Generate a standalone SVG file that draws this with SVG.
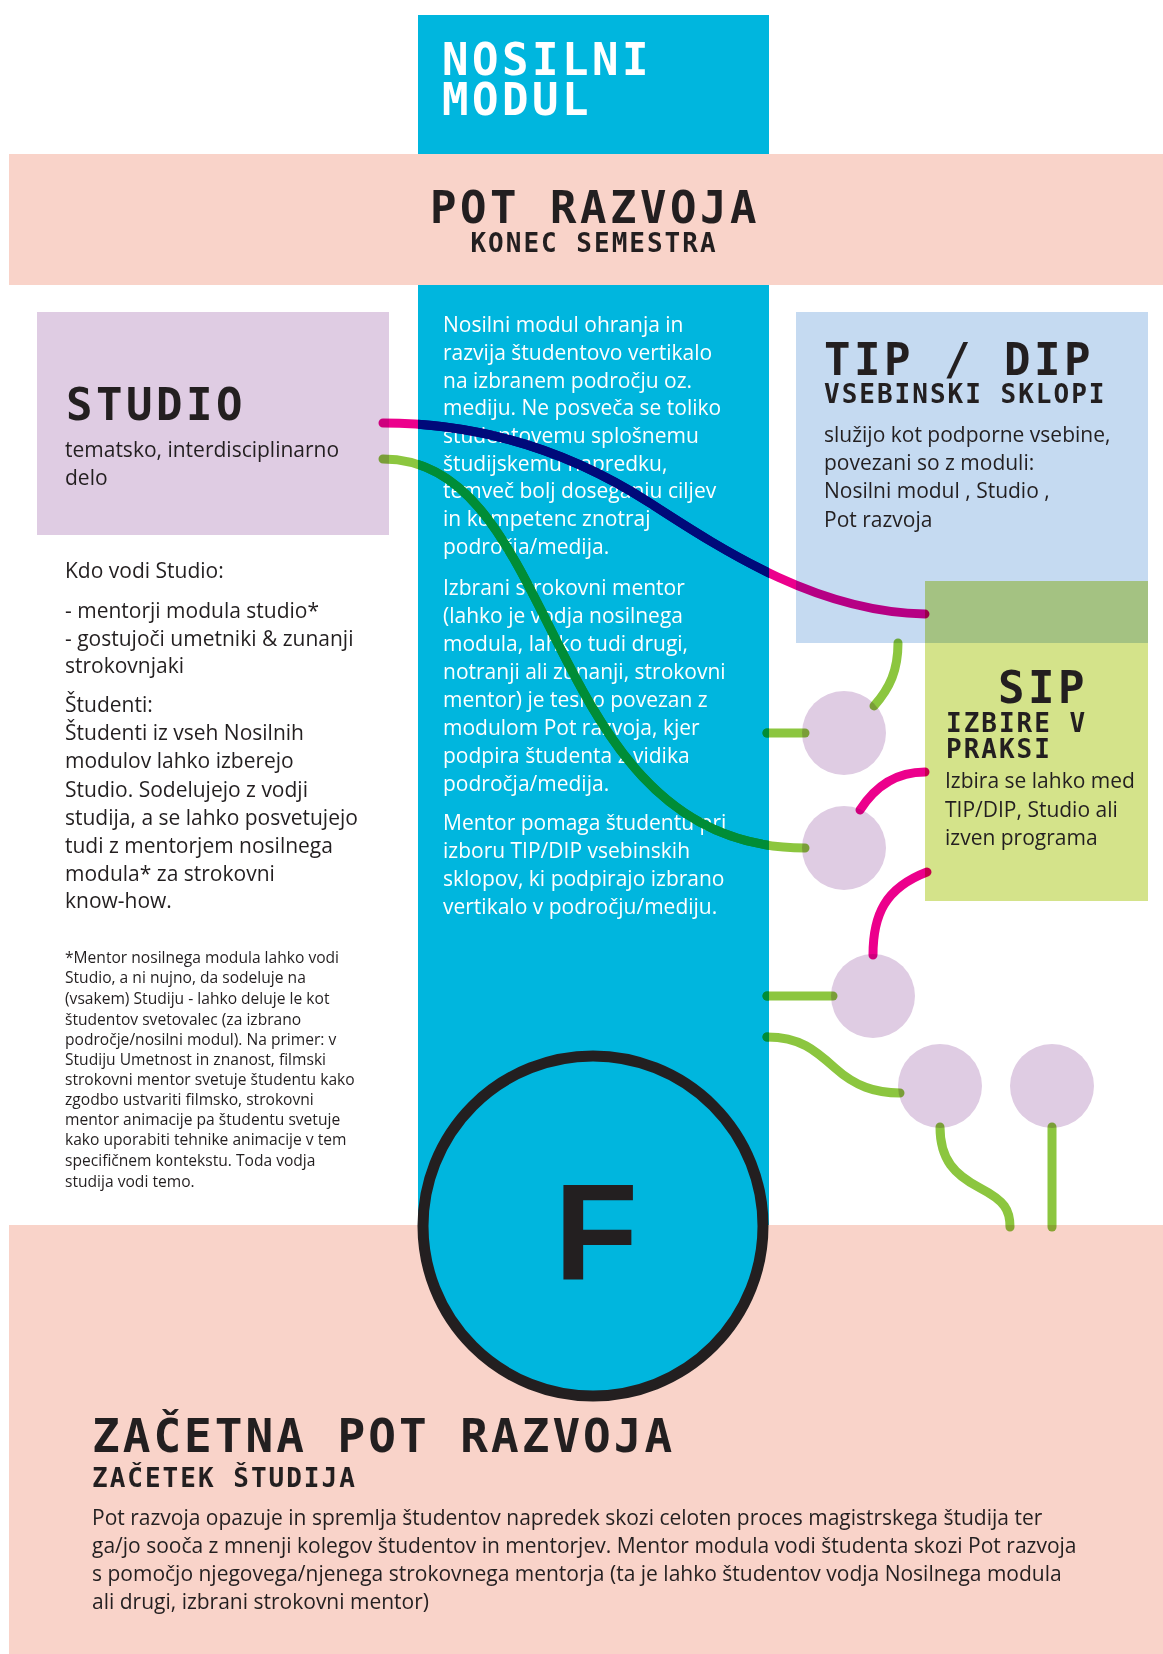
<svg xmlns="http://www.w3.org/2000/svg" width="1163" height="1654" viewBox="0 0 1163 1654">
<style>
.hd{font-family:"DejaVu Sans Mono","Liberation Mono",monospace;font-weight:bold;fill:#231f20}
.big{font-size:44px;letter-spacing:3.5px}
.sub{font-size:26px;letter-spacing:2px}
.tx{font-family:"Open Sans","Noto Sans","Liberation Sans",sans-serif;font-size:21px;fill:#231f20}
.wt{fill:#ffffff}
.fn{font-size:15.6px}
.bub{fill:#dfcce3}
.ln{fill:none;stroke-width:9;stroke-linecap:round;mix-blend-mode:multiply}
.lc{fill:none;stroke-width:9;stroke-linecap:round}
.g{stroke:#8cc63f}
.m{stroke:#ec008c}
.gd{stroke:#008d37}
.md{stroke:#000a7a}
</style>
<defs>
<clipPath id="col"><rect x="418" y="15" width="351" height="1210"/></clipPath>
<path id="p1" d="M383,423 C470,423 560,445 650,503 C730,555 820,612 925,614"/>
<path id="p2" d="M383,459 C565,459 540,848 805,848"/>
<path id="p4" d="M767,733 L805,733"/>
<path id="p7" d="M767,996 L833,996"/>
<path id="p8" d="M767,1037 C800,1037 815,1050 835,1068 C855,1086 875,1093 900,1093"/>
</defs>
<rect width="1163" height="1654" fill="#ffffff"/>
<g id="nosilni-modul">
<rect x="418" y="15" width="351" height="1210" fill="#00b6de"/>
<text class="hd big wt" x="442" y="75">NOSILNI</text>
<text class="hd big wt" x="442" y="115">MODUL</text>
<g class="tx wt">
<text x="443" y="332">Nosilni modul ohranja in</text>
<text x="443" y="360">razvija študentovo vertikalo</text>
<text x="443" y="388">na izbranem področju oz.</text>
<text x="443" y="415">mediju. Ne posveča se toliko</text>
<text x="443" y="443">študentovemu splošnemu</text>
<text x="443" y="471">študijskemu napredku,</text>
<text x="443" y="498">temveč bolj doseganju ciljev</text>
<text x="443" y="526">in kompetenc znotraj</text>
<text x="443" y="554">področja/medija.</text>
<text x="443" y="595">Izbrani strokovni mentor</text>
<text x="443" y="623">(lahko je vodja nosilnega</text>
<text x="443" y="651">modula, lahko tudi drugi,</text>
<text x="443" y="679">notranji ali zunanji, strokovni</text>
<text x="443" y="707">mentor) je tesno povezan z</text>
<text x="443" y="735">modulom Pot razvoja, kjer</text>
<text x="443" y="763">podpira študenta z vidika</text>
<text x="443" y="791">področja/medija.</text>
<text x="443" y="830">Mentor pomaga študentu pri</text>
<text x="443" y="858">izboru TIP/DIP vsebinskih</text>
<text x="443" y="886">sklopov, ki podpirajo izbrano</text>
<text x="443" y="914">vertikalo v področju/mediju.</text>
</g>
</g>
<g id="pot-razvoja">
<rect x="9" y="154" width="1154" height="131" fill="#f9d3c9"/>
<text class="hd big" x="595" y="223" text-anchor="middle">POT RAZVOJA</text>
<text class="hd sub" x="594" y="252" text-anchor="middle">KONEC SEMESTRA</text>
</g>
<g id="studio">
<rect x="37" y="312" width="352" height="223" fill="#dfcce3"/>
<text class="hd big" x="66" y="420">STUDIO</text>
<text class="tx" x="65" y="457">tematsko, interdisciplinarno</text>
<text class="tx" x="65" y="485">delo</text>
</g>
<g id="studio-info" class="tx">
<text x="65" y="578">Kdo vodi Studio:</text>
<text x="65" y="618">- mentorji modula studio*</text>
<text x="65" y="646">- gostujoči umetniki &amp; zunanji</text>
<text x="65" y="673">strokovnjaki</text>
<text x="65" y="712">Študenti:</text>
<text x="65" y="740">Študenti iz vseh Nosilnih</text>
<text x="65" y="768">modulov lahko izberejo</text>
<text x="65" y="797">Studio. Sodelujejo z vodji</text>
<text x="65" y="825">studija, a se lahko posvetujejo</text>
<text x="65" y="853">tudi z mentorjem nosilnega</text>
<text x="65" y="881">modula* za strokovni</text>
<text x="65" y="908">know-how.</text>
<g class="fn">
<text x="65" y="963">*Mentor nosilnega modula lahko vodi</text>
<text x="65" y="983">Studio, a ni nujno, da sodeluje na</text>
<text x="65" y="1004">(vsakem) Studiju - lahko deluje le kot</text>
<text x="65" y="1025">študentov svetovalec (za izbrano</text>
<text x="65" y="1045">področje/nosilni modul). Na primer: v</text>
<text x="65" y="1065">Studiju Umetnost in znanost, filmski</text>
<text x="65" y="1085">strokovni mentor svetuje študentu kako</text>
<text x="65" y="1105">zgodbo ustvariti filmsko, strokovni</text>
<text x="65" y="1125">mentor animacije pa študentu svetuje</text>
<text x="65" y="1145">kako uporabiti tehnike animacije v tem</text>
<text x="65" y="1166">specifičnem kontekstu. Toda vodja</text>
<text x="65" y="1187">studija vodi temo.</text>
</g>
</g>
<g id="tip-dip">
<rect x="796" y="312" width="352" height="331" fill="#c5daf1"/>
<text class="hd big" x="824" y="375">TIP / DIP</text>
<text class="hd sub" x="824" y="403">VSEBINSKI SKLOPI</text>
<g class="tx">
<text x="824" y="442">služijo kot podporne vsebine,</text>
<text x="824" y="470">povezani so z moduli:</text>
<text x="824" y="498">Nosilni modul , Studio ,</text>
<text x="824" y="527">Pot razvoja</text>
</g>
</g>
<g id="sip">
<rect x="925" y="581" width="223" height="320" fill="#d4e38a" style="mix-blend-mode:multiply"/>
<text class="hd big" x="998" y="703">SIP</text>
<text class="hd sub" x="946" y="732">IZBIRE V</text>
<text class="hd sub" x="946" y="758">PRAKSI</text>
<g class="tx">
<text x="945" y="788">Izbira se lahko med</text>
<text x="945" y="817">TIP/DIP, Studio ali</text>
<text x="945" y="845">izven programa</text>
</g>
</g>
<g id="bubble-1"><circle class="bub" cx="844" cy="733" r="42"/></g>
<g id="bubble-2"><circle class="bub" cx="844" cy="848" r="42"/></g>
<g id="bubble-3"><circle class="bub" cx="873" cy="996" r="42"/></g>
<g id="bubble-4"><circle class="bub" cx="940" cy="1086" r="42"/></g>
<g id="bubble-5"><circle class="bub" cx="1052" cy="1086" r="42"/></g>
<g id="zacetna-pot-razvoja">
<rect x="9" y="1225" width="1154" height="429" fill="#f9d3c9"/>
<text class="hd big" x="92" y="1452" style="font-size:46px;letter-spacing:3px">ZAČETNA POT RAZVOJA</text>
<text class="hd sub" x="92" y="1487">ZAČETEK ŠTUDIJA</text>
<g class="tx">
<text x="92" y="1525">Pot razvoja opazuje in spremlja študentov napredek skozi celoten proces magistrskega študija ter</text>
<text x="92" y="1553">ga/jo sooča z mnenji kolegov študentov in mentorjev. Mentor modula vodi študenta skozi Pot razvoja</text>
<text x="92" y="1581">s pomočjo njegovega/njenega strokovnega mentorja (ta je lahko študentov vodja Nosilnega modula</text>
<text x="92" y="1609">ali drugi, izbrani strokovni mentor)</text>
</g>
</g>
<g id="f-circle">
<circle cx="593" cy="1226" r="170" fill="#00b6de" stroke="#231f20" stroke-width="11"/>
<text x="596" y="1280" text-anchor="middle" style="font-family:'Liberation Sans',Arial,sans-serif;font-weight:bold;font-size:137px;fill:#231f20">F</text>
</g>
<g id="connectors">
<use href="#p1" class="ln m"/>
<use href="#p2" class="ln g"/>
<path class="ln g" d="M898,643 C898,670 890,688 874,706"/>
<use href="#p4" class="ln g"/>
<path class="ln m" d="M860,810 C878,782 900,772 925,772"/>
<path class="ln m" d="M873,955 C873,915 885,888 927,872"/>
<use href="#p7" class="ln g"/>
<use href="#p8" class="ln g"/>
<path class="ln g" d="M940,1127 C940,1160 955,1175 980,1188 C1005,1201 1010,1210 1010,1227"/>
<path class="ln g" d="M1052,1127 L1052,1227"/>
<g clip-path="url(#col)">
<use href="#p1" class="lc md"/>
<use href="#p2" class="lc gd"/>
<use href="#p4" class="lc gd"/>
<use href="#p7" class="lc gd"/>
<use href="#p8" class="lc gd"/>
</g>
</g>
</svg>
